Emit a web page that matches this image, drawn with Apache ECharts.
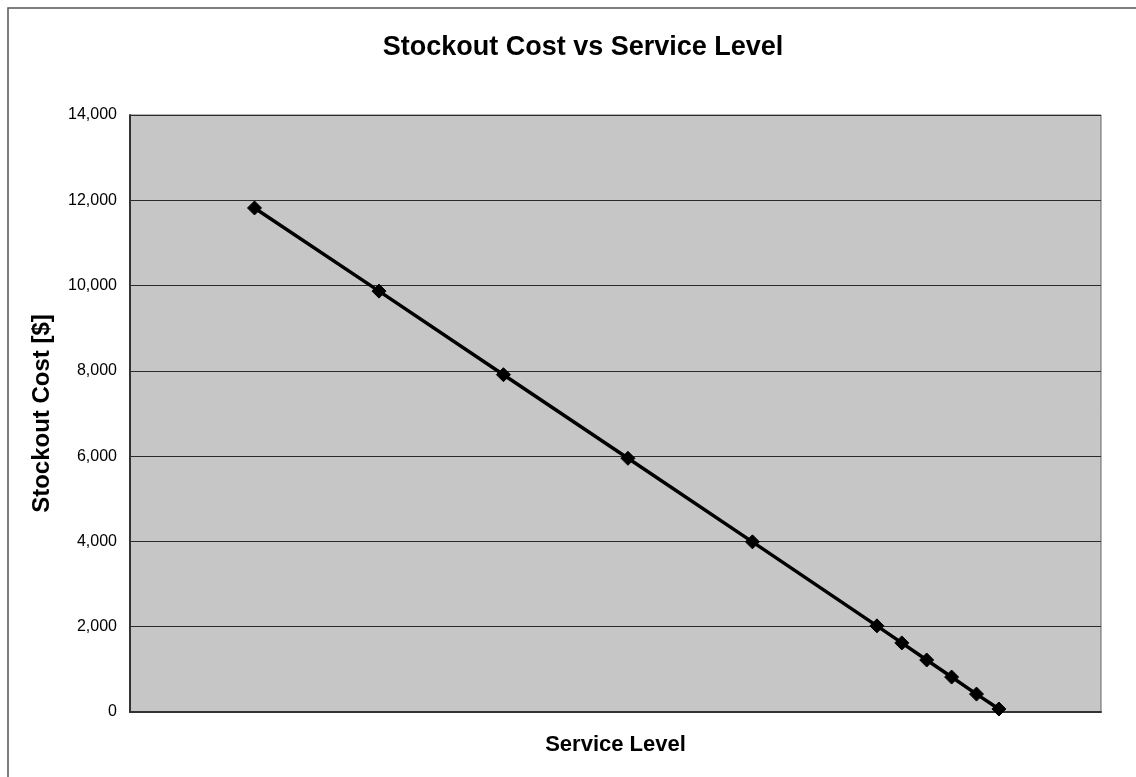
<!DOCTYPE html>
<html>
<head>
<meta charset="utf-8">
<script src="https://cdn.jsdelivr.net/npm/echarts@6/dist/echarts.min.js"></script>
<style>
  html, body { margin: 0; padding: 0; background: #fff; }
  #chart { width: 1136px; height: 777px; }
</style>
</head>
<body>
<div id="chart"></div>
<script>
// Service level (fraction of demand met) and the matching stockout cost in dollars
const serviceLevels = [0.70, 0.75, 0.80, 0.85, 0.90, 0.95, 0.96, 0.97, 0.98, 0.99, 0.999];
const stockoutCosts = [11820, 9870, 7910, 5950, 3990, 2020, 1620, 1220, 820, 420, 70];
const yTicks = [0, 2000, 4000, 6000, 8000, 10000, 12000, 14000];

const FONT = '"Liberation Sans", Arial, Helvetica, sans-serif';

const points = serviceLevels.map((s, i) => [s, stockoutCosts[i]]);

const chart = echarts.init(document.getElementById('chart'), null, { renderer: 'canvas' });

chart.setOption({
  animation: false,
  backgroundColor: '#ffffff',
  textStyle: { fontFamily: FONT },
  title: {
    text: 'Stockout Cost vs Service Level',
    left: 578,
    top: 29,
    textAlign: 'center',
    textStyle: { fontFamily: FONT, fontSize: 27, fontWeight: 'bold', color: '#000' }
  },
  graphic: [{
    type: 'rect',
    silent: true,
    shape: { x: 8, y: 8, width: 1200, height: 800 },
    style: { fill: null, stroke: '#555', lineWidth: 1.5 }
  }],
  grid: {
    left: 130,
    right: 35,
    top: 115,
    bottom: 65,
    show: true,
    backgroundColor: '#c6c6c6',
    borderColor: '#666',
    borderWidth: 1
  },
  xAxis: {
    type: 'value',
    min: 0.65,
    max: 1.04,
    name: 'Service Level',
    nameLocation: 'middle',
    nameGap: 22,
    nameTextStyle: { fontFamily: FONT, fontSize: 22, fontWeight: 'bold', color: '#000' },
    axisLine: { show: true, lineStyle: { color: '#333', width: 2 } },
    axisTick: { show: false },
    axisLabel: { show: false },
    splitLine: { show: false }
  },
  yAxis: {
    type: 'value',
    min: yTicks[0],
    max: yTicks[yTicks.length - 1],
    interval: yTicks[1] - yTicks[0],
    name: 'Stockout Cost [$]',
    nameLocation: 'middle',
    nameGap: 76,
    nameTextStyle: { fontFamily: FONT, fontSize: 24, fontWeight: 'bold', color: '#000' },
    axisLine: { show: true, lineStyle: { color: '#333', width: 2 } },
    axisTick: { show: false },
    axisLabel: {
      margin: 13,
      fontFamily: FONT,
      fontSize: 16,
      color: '#000',
      formatter: v => v.toLocaleString('en-US')
    },
    splitLine: { show: true, lineStyle: { color: '#2a2a2a', width: 1.2 } }
  },
  series: [{
    type: 'line',
    data: points,
    symbol: 'diamond',
    symbolSize: 14,
    showSymbol: true,
    lineStyle: { color: '#000', width: 3.5 },
    itemStyle: { color: '#000', borderColor: '#000' },
    z: 5
  }]
});
</script>
</body>
</html>
